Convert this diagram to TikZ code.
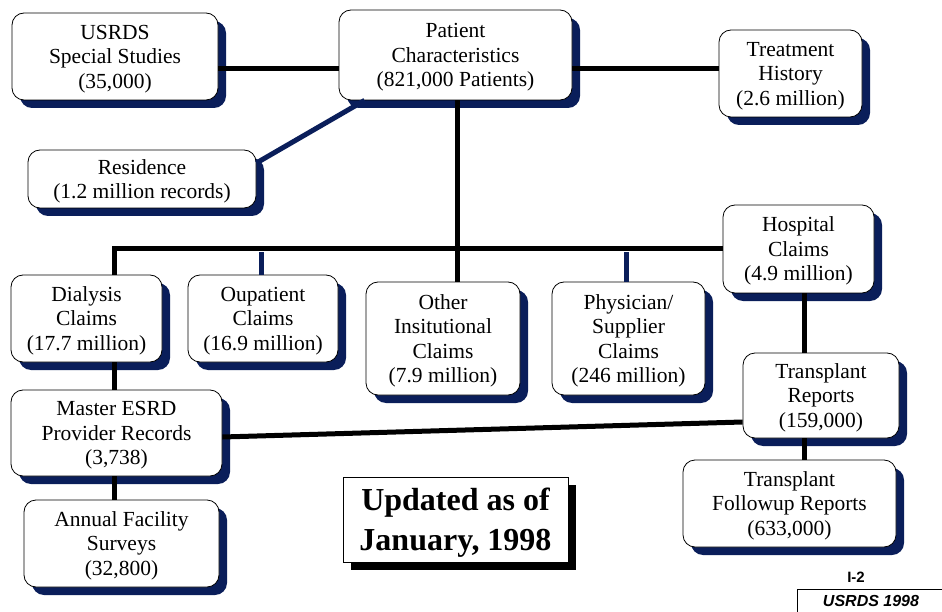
\documentclass[tikz,border=0pt]{standalone}
\usepackage{fontspec}
\setmainfont{Liberation Serif}
\newfontfamily\tagfont{Liberation Sans}
\usetikzlibrary{shadows}

\definecolor{navy}{RGB}{10,30,90}

\tikzset{
  rec/.style={draw, rounded corners=12pt, fill=white, align=center, line width=0.8pt,
    inner sep=0pt, font=\fontsize{21.5}{24.5}\selectfont, text depth=-4pt,
    drop shadow={shadow xshift=8pt, shadow yshift=-8pt, fill=navy, opacity=1}},
  notebox/.style={draw, fill=white, align=center, line width=0.8pt, inner sep=0pt,
    font=\bfseries\fontsize{32}{40}\selectfont, text depth=-3pt,
    drop shadow={shadow xshift=8pt, shadow yshift=-8pt, fill=black, opacity=1}},
  link/.style={line width=5pt},
  navylink/.style={line width=5pt, draw=navy},
}

\begin{document}
\begin{tikzpicture}[x=1pt, y=-1pt]
  \useasboundingbox (0,0) rectangle (942,612);

  % boxes
  \node[rec, minimum width=206, minimum height=87] (usrds) at (115,56.5) {USRDS\\Special Studies\\(35,000)};
  \node[rec, minimum width=233, minimum height=90] (pat) at (455.5,55) {Patient\\Characteristics\\(821,000 Patients)};
  \node[rec, minimum width=143, minimum height=87] (treat) at (790.5,73.5) {Treatment\\History\\(2.6 million)};
  \node[rec, minimum width=228, minimum height=58] (res) at (142,179) {Residence\\(1.2 million records)};
  \node[rec, minimum width=151, minimum height=88] (hosp) at (798.5,249) {Hospital\\Claims\\(4.9 million)};
  \node[rec, minimum width=151, minimum height=87] (dial) at (86.5,318.5) {Dialysis\\Claims\\(17.7 million)};
  \node[rec, minimum width=150, minimum height=87] (oup) at (263,318.5) {Oupatient\\Claims\\(16.9 million)};
  \node[rec, minimum width=154, minimum height=113] (other) at (443,338.5) {Other\\Insitutional\\Claims\\(7.9 million)};
  \node[rec, minimum width=153, minimum height=113] (phys) at (628.5,338.5) {Physician/\\Supplier\\Claims\\(246 million)};
  \node[rec, minimum width=156, minimum height=85] (trans) at (821,395.5) {Transplant\\Reports\\(159,000)};
  \node[rec, minimum width=211, minimum height=86] (master) at (116.5,433) {Master ESRD\\Provider Records\\(3,738)};
  \node[rec, minimum width=213, minimum height=87] (follow) at (789.5,503.5) {Transplant\\Followup Reports\\(633,000)};
  \node[rec, minimum width=195, minimum height=87] (annual) at (121.5,543.5) {Annual Facility\\Surveys\\(32,800)};
  \node[notebox, minimum width=225, minimum height=85] (upd) at (455.5,519.5) {Updated as of\\January, 1998};

  \coordinate (lvl) at (0,69);
  \coordinate (bus) at (0,249);

  % connectors
  \draw[link] (usrds.east |- lvl) -- (pat.west |- lvl);
  \draw[link] (pat.east |- lvl) -- (treat.west |- lvl);
  \draw[navylink] ([xshift=26pt]pat.south west) -- ([yshift=16pt]res.east);
  \draw[navylink] (oup.north -| 261,0) -- (261,252);
  \draw[navylink] (phys.north -| 626,0) -- (626,252);
  \draw[link] (pat.south -| 457,0) -- (other.north -| 457,0);
  \draw[link] ([xshift=27.5pt]dial.north) |- (hosp.west);
  \draw[link] (master.north -| 114,0) -- (dial.south -| 114,0);
  \draw[link] (master.south -| 114,0) -- (annual.north -| 114,0);
  \draw[link] (hosp.south -| 804,0) -- (trans.north -| 804,0);
  \draw[link] (trans.south -| 804,0) -- (follow.north -| 804,0);
  \draw[link] ([yshift=-4pt]master.east) -- ([yshift=-26.5pt]trans.west);

  % page tag
  \node[font=\tagfont\bfseries\fontsize{15}{18}\selectfont] (pg) at (856,577) {I-2};
  \node[font=\tagfont\bfseries\itshape\fontsize{16}{19}\selectfont] (yr) at (871,601) {USRDS 1998};
  \draw[line width=1pt] (797,612) -- (797,589.5) -- (942,589.5);
\end{tikzpicture}
\end{document}
